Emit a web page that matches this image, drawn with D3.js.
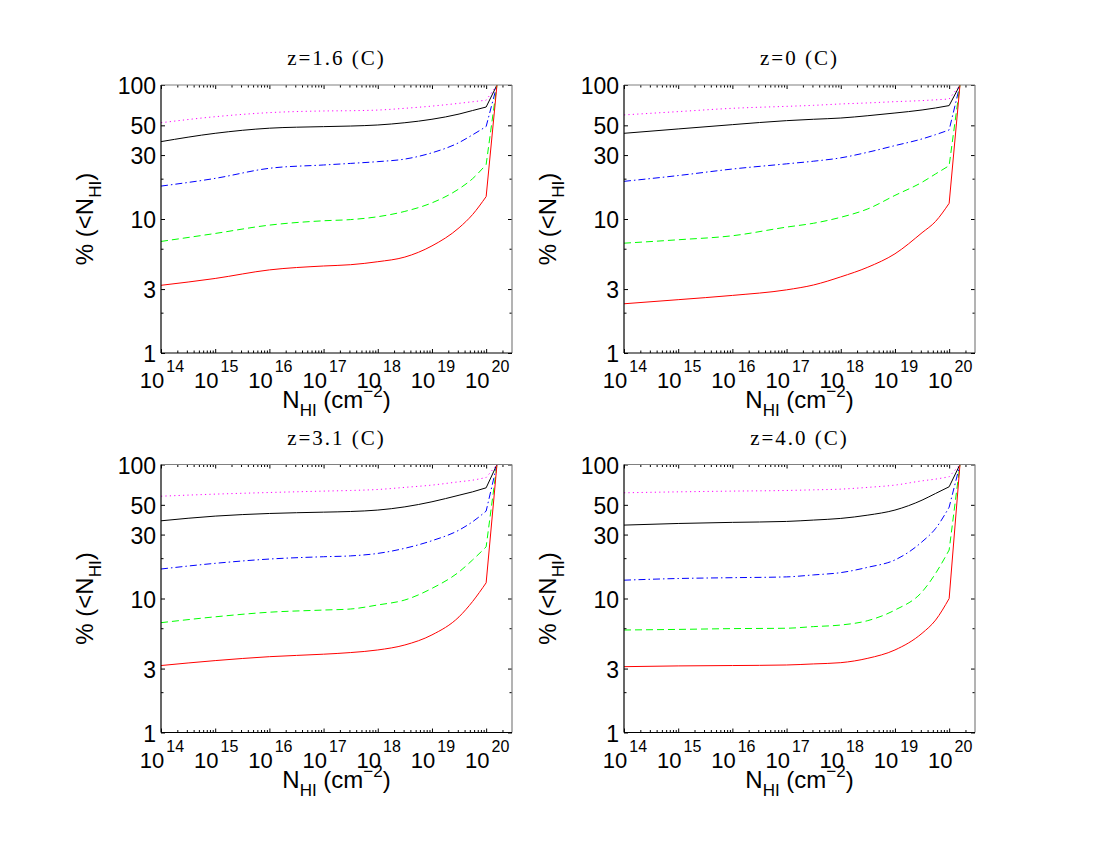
<!DOCTYPE html>
<html><head><meta charset="utf-8">
<script src="https://cdn.jsdelivr.net/npm/d3@7"></script>
<style>body{margin:0;background:#fff}</style>
</head><body>
<svg id="c" width="1100" height="850"></svg>
<script>
// ---------- data ----------
const logN = [14, 15, 16, 17, 17.5, 18, 18.5, 19, 19.5, 19.75, 20, 20.2];
const titles = ["z=1.6 (C)", "z=0 (C)", "z=3.1 (C)", "z=4.0 (C)"];
const xTickExp = [14, 15, 16, 17, 18, 19, 20];
const yTicks = [1, 3, 10, 30, 50, 100];
const yMinorTicks = [2, 6, 20];

// z=1.6
const z16Magenta = [52.3, 58, 62.2, 64, 64.3, 65, 67, 69.6, 73, 75, 77, 100];
const z16Black   = [37.8, 43.6, 47.6, 48.9, 49.4, 50.3, 52.3, 55.5, 60.7, 64.5, 68.5, 100];
const z16Blue    = [17.6, 20.1, 23.9, 25.3, 26, 26.8, 28, 31.2, 37.2, 42.5, 49, 100];
const z16Green   = [6.8, 7.8, 9.0, 9.7, 9.9, 10.4, 11.4, 13.2, 16.8, 20, 25.5, 100];
const z16Red     = [3.2, 3.6, 4.17, 4.46, 4.56, 4.8, 5.2, 6.3, 8.6, 10.8, 14.7, 100];
// z=0
const z0Magenta = [59.8, 63.3, 67, 69.3, 70.5, 72.2, 73.5, 75.1, 76.5, 77.5, 78.6, 100];
const z0Black   = [43.6, 47, 50.6, 54.2, 55.5, 56.7, 59, 61.8, 65.1, 67.4, 70.2, 100];
const z0Blue    = [19.1, 21.1, 23.6, 25.8, 27, 28.6, 31.5, 35.3, 39.6, 42.6, 46.2, 100];
const z0Green   = [6.6, 7.0, 7.5, 8.7, 9.3, 10.3, 11.9, 15, 18.8, 21.7, 25, 100];
const z0Red     = [2.33, 2.5, 2.69, 2.96, 3.22, 3.7, 4.37, 5.5, 7.9, 9.6, 13.1, 100];
// z=3.1
const z31Magenta = [58, 60.1, 61.8, 63.3, 64, 65.1, 67.5, 70.2, 74.3, 76.4, 80, 100];
const z31Black   = [38, 41.2, 43.1, 44.1, 44.6, 45.7, 48.3, 52.7, 59, 62.5, 67, 100];
const z31Blue    = [16.6, 18.3, 19.7, 20.5, 20.8, 21.7, 23.7, 27, 32.4, 37.4, 44.9, 100];
const z31Green   = [6.6, 7.3, 7.9, 8.2, 8.35, 8.95, 9.75, 11.9, 15.8, 19.4, 24.3, 100];
const z31Red     = [3.16, 3.44, 3.68, 3.84, 3.95, 4.13, 4.5, 5.35, 7.3, 9.5, 13.1, 100];
// z=4.0
const z40Magenta = [61.5, 62.5, 63.3, 64, 64.7, 65.5, 67.5, 70.2, 75.5, 77.8, 81, 100];
const z40Black   = [35.3, 36.3, 37, 37.6, 38.5, 39.6, 41.9, 45.7, 54.2, 60.8, 68.2, 100];
const z40Blue    = [13.7, 14.1, 14.3, 14.5, 15, 15.6, 17.1, 19.4, 26.5, 33.3, 48, 100];
const z40Green   = [5.82, 5.88, 5.96, 6.0, 6.17, 6.34, 6.84, 8.2, 11.2, 15.4, 23, 100];
const z40Red     = [3.1, 3.14, 3.16, 3.19, 3.25, 3.32, 3.58, 4.13, 5.5, 6.9, 10, 100];

const panelSeries = [
  [z16Magenta, z16Black, z16Blue, z16Green, z16Red],
  [z0Magenta, z0Black, z0Blue, z0Green, z0Red],
  [z31Magenta, z31Black, z31Blue, z31Green, z31Red],
  [z40Magenta, z40Black, z40Blue, z40Green, z40Red]
];

// ---------- styles / layout ----------
const lineStyles = [
  {color: "#ff00ff", dash: "1.2,3.2"},
  {color: "#000000", dash: null},
  {color: "#0000ff", dash: "7,3,1.5,3"},
  {color: "#00ff00", dash: "7,4"},
  {color: "#ff0000", dash: null}
];
const W = 351, H = 268;
const origins = [[161, 85], [624, 85], [161, 464.5], [624, 464.5]];
const sans = "'Liberation Sans', Arial, Helvetica, sans-serif";
const serif = "'Liberation Serif', 'Times New Roman', serif";

const svg = d3.select("#c");
const x = d3.scaleLog().domain([1e14, 3e20]).range([0, W]);
const y = d3.scaleLog().domain([1, 100]).range([H, 0]);

const xMajor = xTickExp.map(e => Math.pow(10, e));
const xMinor = [];
xTickExp.forEach(e => { for (let k = 2; k <= 9; k++) { const v = k * Math.pow(10, e); if (v < 3e20) xMinor.push(v); } });

origins.forEach(([ox, oy], p) => {
  const g = svg.append("g").attr("transform", `translate(${ox},${oy})`);
  const clipId = "clip" + p;
  g.append("clipPath").attr("id", clipId).append("rect").attr("width", W).attr("height", H);

  // curves
  const lg = g.append("g").attr("clip-path", `url(#${clipId})`);
  panelSeries[p].forEach((vals, si) => {
    const pts = logN.map((l, i) => [Math.pow(10, l), vals[i]]);
    const smooth = d3.line().x(d => x(d[0])).y(d => y(d[1])).curve(d3.curveMonotoneX)(pts.slice(0, -1));
    const last = pts[pts.length - 1];
    const dStr = smooth + "L" + x(last[0]) + "," + y(last[1]);
    const st = lineStyles[si];
    lg.append("path").attr("d", dStr).attr("fill", "none")
      .attr("stroke", st.color).attr("stroke-width", 1)
      .attr("stroke-dasharray", st.dash);
  });

  // ticks
  const tk = (axis, sel) => { sel.call(axis); sel.select(".domain").remove(); sel.selectAll("line").attr("stroke", "#000"); };
  tk(d3.axisBottom(x).tickValues(xMajor).tickSize(-4).tickFormat(""), g.append("g").attr("transform", `translate(0,${H})`));
  tk(d3.axisBottom(x).tickValues(xMinor).tickSize(-2.5).tickFormat(""), g.append("g").attr("transform", `translate(0,${H})`));
  tk(d3.axisTop(x).tickValues(xMajor).tickSize(-4).tickFormat(""), g.append("g"));
  tk(d3.axisTop(x).tickValues(xMinor).tickSize(-2.5).tickFormat(""), g.append("g"));
  tk(d3.axisLeft(y).tickValues(yTicks).tickSize(-4).tickFormat(""), g.append("g"));
  tk(d3.axisLeft(y).tickValues(yMinorTicks).tickSize(-2.5).tickFormat(""), g.append("g"));
  tk(d3.axisRight(y).tickValues(yTicks).tickSize(-4).tickFormat(""), g.append("g").attr("transform", `translate(${W},0)`));
  tk(d3.axisRight(y).tickValues(yMinorTicks).tickSize(-2.5).tickFormat(""), g.append("g").attr("transform", `translate(${W},0)`));

  // box
  g.append("line").attr("x1", 0).attr("x2", W).attr("y1", 0).attr("y2", 0).attr("stroke", "#808080").attr("stroke-width", 1.2);
  g.append("line").attr("x1", W).attr("x2", W).attr("y1", 0).attr("y2", H).attr("stroke", "#808080").attr("stroke-width", 1.2);
  g.append("line").attr("x1", 0).attr("x2", 0).attr("y1", 0).attr("y2", H).attr("stroke", "#000").attr("stroke-width", 1.2);
  g.append("line").attr("x1", 0).attr("x2", W).attr("y1", H).attr("y2", H).attr("stroke", "#000").attr("stroke-width", 1.2);

  // y tick labels
  yTicks.forEach(v => {
    g.append("text").attr("x", -5).attr("y", y(v) + 1).attr("text-anchor", "end")
      .attr("dominant-baseline", "central").attr("font-family", sans).attr("font-size", 23).text(v);
  });
  // x tick labels
  xTickExp.forEach(e => {
    const t = g.append("text").attr("x", x(Math.pow(10, e)) + 1).attr("y", H + 35)
      .attr("text-anchor", "middle").attr("font-family", sans).attr("font-size", 22);
    t.append("tspan").text("10");
    t.append("tspan").attr("dy", -16).attr("dx", 2).attr("font-size", 16).text(e);
  });

  // x label
  const xl = g.append("text").attr("x", W / 2).attr("y", H + 55).attr("text-anchor", "middle")
    .attr("font-family", sans).attr("font-size", 24);
  xl.append("tspan").text("N");
  xl.append("tspan").attr("dy", 8).attr("font-size", 17).text("HI");
  xl.append("tspan").attr("dy", -8).text(" (cm");
  xl.append("tspan").attr("dy", -11).attr("font-size", 17).text("\u22122");
  xl.append("tspan").attr("dy", 11).text(")");

  // y label
  const yl = g.append("text").attr("transform", `translate(-68,${H / 2}) rotate(-90)`)
    .attr("text-anchor", "middle").attr("font-family", sans).attr("font-size", 24);
  yl.append("tspan").text("% (<N");
  yl.append("tspan").attr("dy", 8).attr("font-size", 17).text("HI");
  yl.append("tspan").attr("dy", -8).text(")");

  // title
  g.append("text").attr("x", W / 2).attr("y", -20).attr("text-anchor", "middle")
    .attr("font-family", serif).attr("font-size", 21).attr("letter-spacing", 2).text(titles[p]);
});
</script>
</body></html>
